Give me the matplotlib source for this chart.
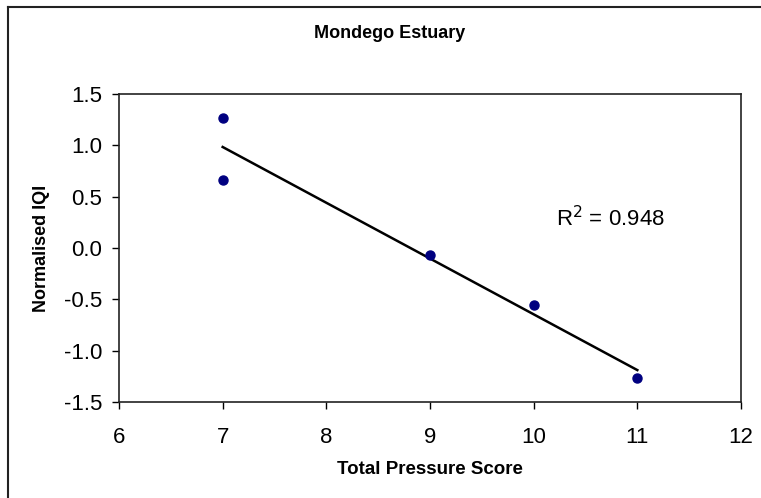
import numpy as np
import matplotlib
matplotlib.use('Agg')
import matplotlib.pyplot as plt
from matplotlib.lines import Line2D

plt.rcParams['font.family'] = ['Liberation Sans', 'DejaVu Sans']

# pressure score vs normalised index
pressure = [7, 7, 9, 10, 11]
iqi = [1.27, 0.66, -0.07, -0.56, -1.27]
r2_label = 'R$^2$ = 0.948'

fig = plt.figure(figsize=(7.61, 4.98), dpi=100)
ax = fig.add_axes([119 / 761, 1 - 402 / 498, 622 / 761, 308 / 498])

ax.plot(pressure, iqi, 'o', color='#000080', markersize=6.5, zorder=3)

# linear trend line over the data range
slope, intercept = np.polyfit(pressure, iqi, 1)
xs = np.array([min(pressure), max(pressure)])
ax.plot(xs, slope * xs + intercept, color='black', linewidth=1.8, zorder=2)

ax.text(10.22, 0.29, r2_label, fontsize=16, va='center', ha='left')

ax.set_xlim(6, 12)
ax.set_ylim(-1.5, 1.5)
ax.set_xticks(range(6, 13))
ax.set_yticks(np.arange(-1.5, 1.51, 0.5))
ax.yaxis.set_major_formatter(matplotlib.ticker.FormatStrFormatter('%.1f'))
ax.tick_params(direction='out', length=5, width=1, labelsize=16, pad=7)
ax.tick_params(axis='x', pad=13)
for s in ax.spines.values():
    s.set_linewidth(1.2)
    s.set_color('#222222')

ax.set_xlabel('Total Pressure Score', fontsize=13.5, fontweight='bold', labelpad=9)
ax.set_ylabel('Normalised IQI', fontsize=13, fontweight='bold', labelpad=10)
fig.text(390 / 761, 1 - 33 / 498, 'Mondego Estuary', fontsize=13,
         fontweight='bold', ha='center', va='center')

# outer chart frame
bx, by = 8 / 761, 1 - 7 / 498
fig.add_artist(Line2D([bx, bx], [0, by], transform=fig.transFigure, color='#222222', lw=1.5))
fig.add_artist(Line2D([bx, 1], [by, by], transform=fig.transFigure, color='#222222', lw=1.5))

fig.savefig('out.png', dpi=100, facecolor='white')
